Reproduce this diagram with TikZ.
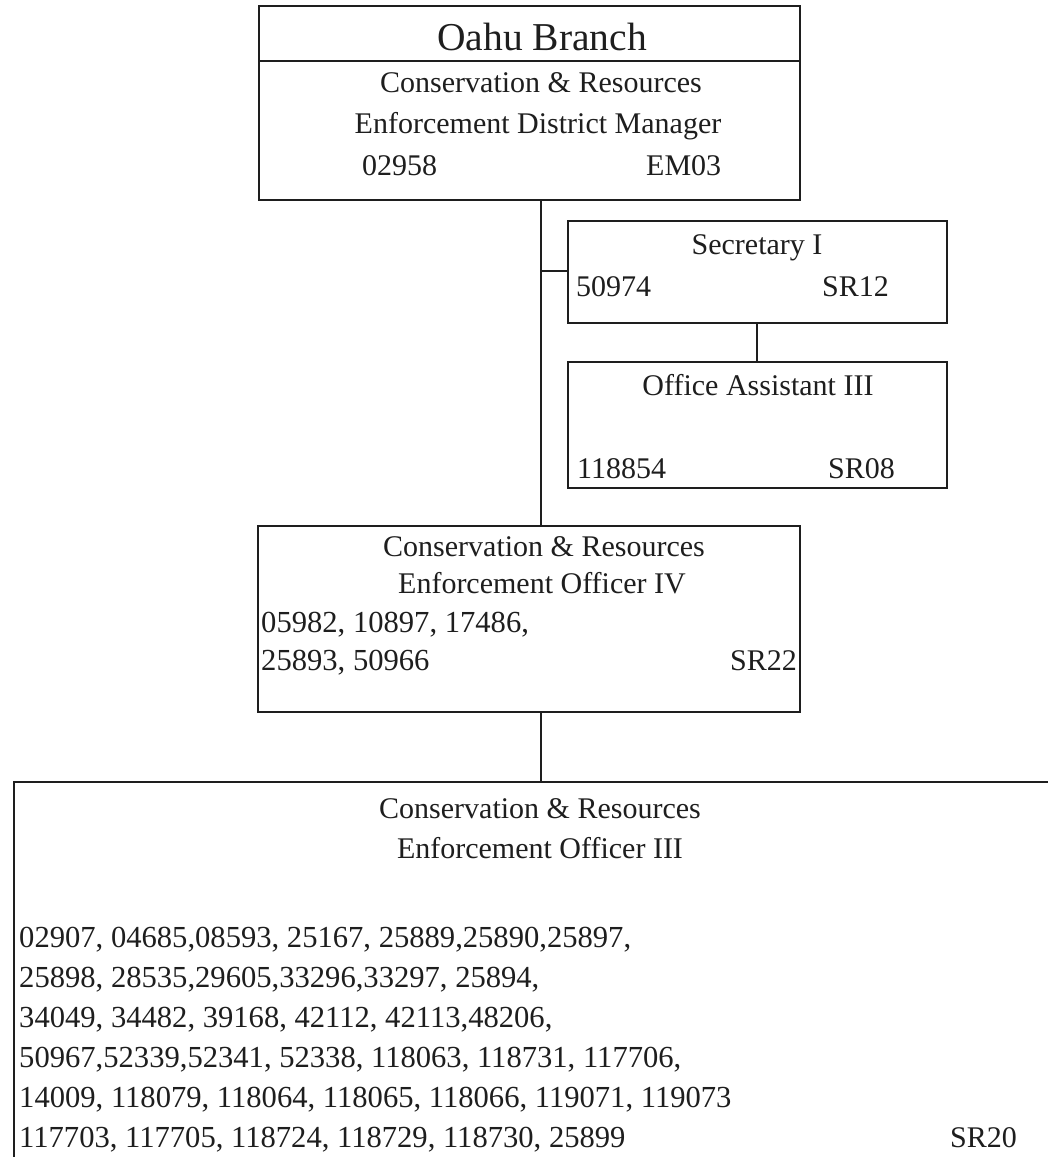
\documentclass[tikz,border=0pt]{standalone}
\usepackage{fontspec}
\setmainfont{Liberation Serif}
\definecolor{ink}{HTML}{1E1E1E}
\begin{document}
\begin{tikzpicture}[x=1pt,y=-1pt,
  box/.style={draw=ink, line width=2.2pt, inner sep=0pt, outer sep=0pt, anchor=north west},
  conn/.style={draw=ink, line width=2.2pt},
  txt/.style={inner sep=0pt, text=ink, font=\fontsize{30}{36}\selectfont},
  num/.style={inner sep=0pt, text=ink, font=\fontsize{30.6}{36}\selectfont},
  ttl/.style={inner sep=0pt, text=ink, font=\fontsize{39.5}{46}\selectfont}]
\useasboundingbox (0,0) rectangle (1048,1157);
\fill[white] (0,0) rectangle (1048,1157);
% boxes
\node[box, minimum width=541pt, minimum height=194pt] (top) at (259,6) {};
\node[box, minimum width=379pt, minimum height=102pt] (sec) at (568,221) {};
\node[box, minimum width=379pt, minimum height=126pt] (oa) at (568,362) {};
\node[box, minimum width=542pt, minimum height=186pt] (c4) at (258,526) {};
\node[box, minimum width=1040pt, minimum height=380pt] (c3) at (14,782) {};
% helper coordinates
\coordinate (trunk) at (541,0);
\coordinate (div) at (0,61);
\coordinate (br) at (541,271);
\coordinate (sx) at (757,0);
% divider in top box
\draw[conn] (top.west |- div) -- (top.east |- div);
% connectors
\draw[conn] (top.south -| trunk) -- (c4.north -| trunk);
\draw[conn] (br) -- (br -| sec.west);
\draw[conn] (sec.south -| sx) -- (oa.north -| sx);
\draw[conn] (c4.south -| trunk) -- (c3.north -| trunk);
% top box text
\node[ttl, anchor=base] (t1) at (542,50) {Oahu Branch};
\node[txt, anchor=base] (t2) at (541,92) {Conservation \& Resources};
\node[txt, anchor=base] (t3) at (538,133) {Enforcement District Manager};
\node[txt, anchor=base west] (t4) at (362,175) {02958};
\node[txt, anchor=base west] (t5) at (646,175) {EM03};
% secretary
\node[txt, anchor=base] (s1) at (757,254) {Secretary I};
\node[txt, anchor=base west] (s2) at (576,296) {50974};
\node[txt, anchor=base west] (s3) at (822,296) {SR12};
% office assistant
\node[txt, anchor=base] (o1) at (758,395) {Office Assistant III};
\node[txt, anchor=base west] (o2) at (577,478) {118854};
\node[txt, anchor=base west] (o3) at (828,478) {SR08};
% CREO IV
\node[txt, anchor=base] (f1) at (544,556) {Conservation \& Resources};
\node[txt, anchor=base] (f2) at (542,593) {Enforcement Officer IV};
\node[num, anchor=base west] (f3) at (261,632) {05982, 10897, 17486,};
\node[num, anchor=base west] (f4) at (261,670) {25893, 50966};
\node[txt, anchor=base east] (f5) at (797,670) {SR22};
% CREO III
\node[txt, anchor=base] (g1) at (540,818) {Conservation \& Resources};
\node[txt, anchor=base] (g2) at (540,858) {Enforcement Officer III};
\node[num, anchor=base west] (g3) at (19,947) {02907, 04685,08593, 25167, 25889,25890,25897,};
\node[num, anchor=base west] (g4) at (19,987) {25898, 28535,29605,33296,33297, 25894,};
\node[num, anchor=base west] (g5) at (19,1027) {34049, 34482, 39168, 42112, 42113,48206,};
\node[num, anchor=base west] (g6) at (19,1067) {50967,52339,52341, 52338, 118063, 118731, 117706,};
\node[num, anchor=base west] (g7) at (19,1107) {14009, 118079, 118064, 118065, 118066, 119071, 119073};
\node[num, anchor=base west] (g8) at (19,1147) {117703, 117705, 118724, 118729, 118730, 25899};
\node[txt, anchor=base west] (g9) at (950,1147) {SR20};
\end{tikzpicture}
\end{document}
